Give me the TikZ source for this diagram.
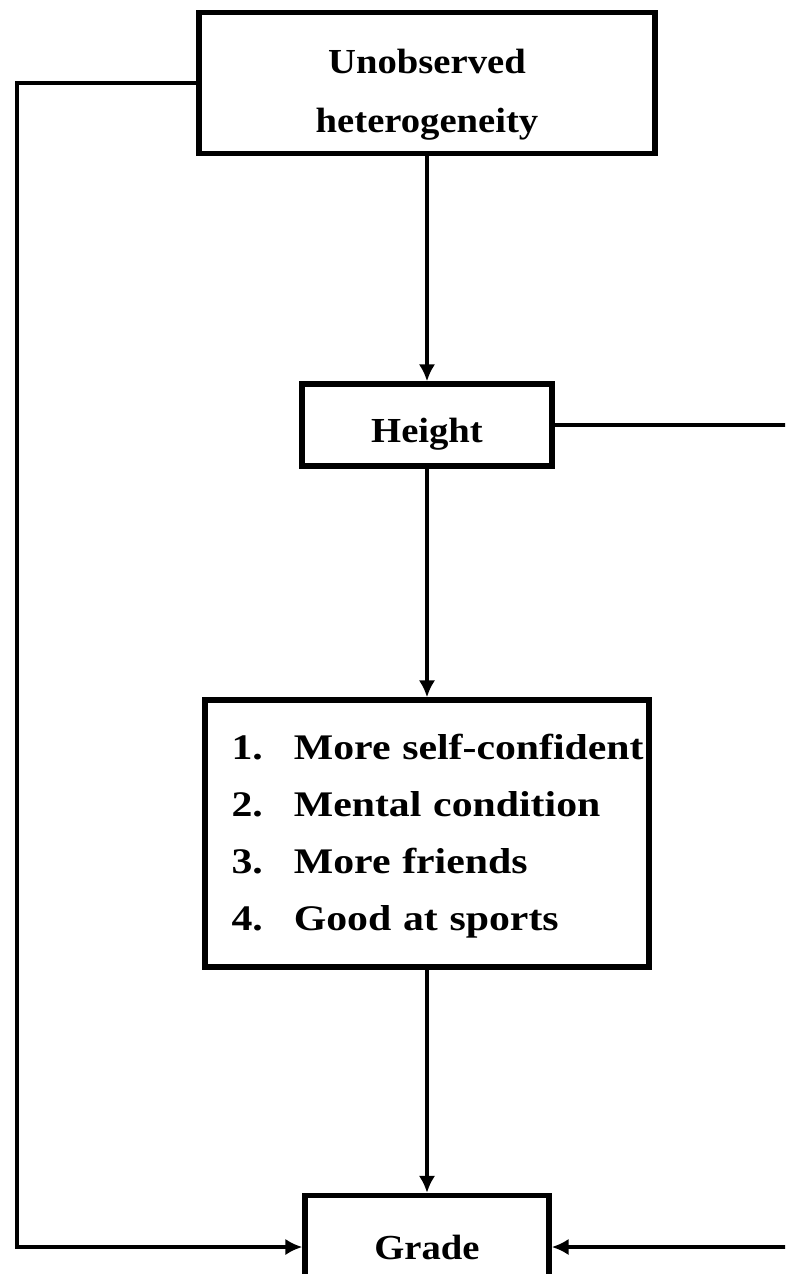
\documentclass[tikz,border=0pt]{standalone}
\usepackage{fontspec}
\setmainfont{Liberation Serif}[FakeStretch=1.1]
\usetikzlibrary{arrows.meta}
\tikzset{
  box/.style={draw, line width=3.1pt, fill=white, inner sep=0pt, align=center,
    font=\fontsize{20}{34}\selectfont\bfseries},
  link/.style={line width=2.8pt},
  arr/.style={link, -{Latex[length=3.4mm,width=3.3mm]}},
}
% lower a label without changing the size TikZ sees
\newcommand{\dropby}[2]{\raisebox{-#1}[\height][\depth]{#2}}

\begin{document}
\begin{tikzpicture}[x=0.02cm, y=-0.02cm]

    \path[use as bounding box] (0,0) rectangle (785,1274);
    \clip (0,0) rectangle (785,1274);

    % boxes
    \node[box, minimum width=9.12cm, minimum height=2.82cm] (hetero) at (427,83)
        {\dropby{0.16cm}{\begin{tabular}{@{}c@{}}Unobserved\\heterogeneity\end{tabular}}};
    \node[box, minimum width=5.0cm, minimum height=1.64cm] (height) at (427,425) {\dropby{0.18cm}{Height}};
    \node[box, minimum width=8.88cm, minimum height=5.34cm, inner xsep=0.53cm, text width=7.82cm, align=left] (channels) at (427,833.5)
        {\fontsize{20.5}{32.4}\selectfont\addfontfeatures{FakeStretch=1.16}%
         \begin{tabular}{@{}l@{\hspace{0.62cm}}l@{}}
         1. & More self-confident\\
         2. & Mental condition\\
         3. & More friends\\
         4. & Good at sports
         \end{tabular}};
    \node[box, minimum width=4.88cm, minimum height=2.06cm] (grade) at (427,1247) {Grade};

    % turning points of the side paths
    \coordinate (lft) at (17,600);
    \coordinate (rgt) at (805,800);

    \draw[arr] (hetero) -- (height);
    \draw[arr] (height) -- (channels);
    \draw[arr] (channels) -- (grade);
    \draw[arr] (hetero.west) -| (lft) |- (grade.west);
    \draw[arr] (height.east) -| (rgt) |- (grade.east);

\end{tikzpicture}
\end{document}
